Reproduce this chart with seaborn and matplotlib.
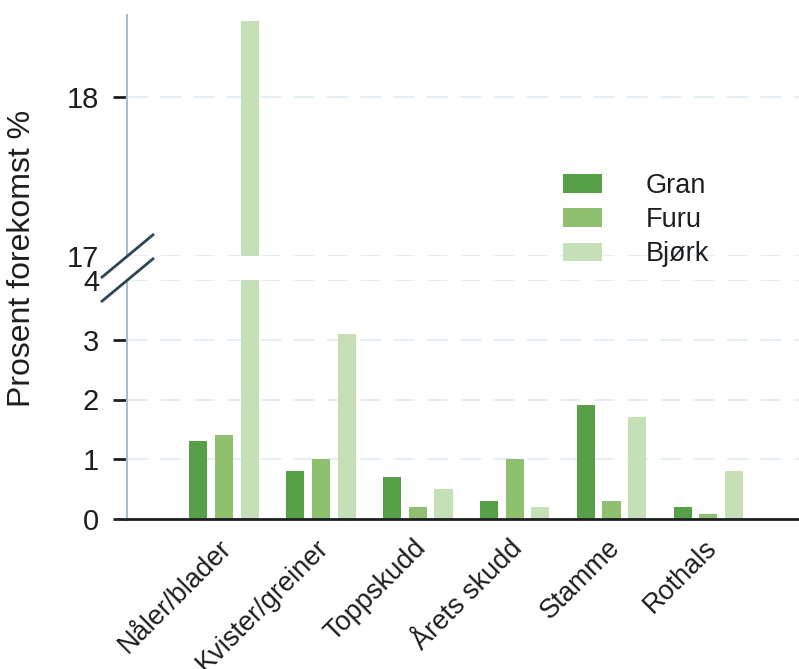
import numpy as np
import pandas as pd
import matplotlib
matplotlib.use("Agg")
import matplotlib.pyplot as plt
import seaborn as sns
from matplotlib.patches import Patch
from matplotlib.lines import Line2D
from matplotlib.transforms import ScaledTranslation

# ---- data ----
categories = ["Nåler/blader", "Kvister/greiner", "Toppskudd", "Årets skudd", "Stamme", "Rothals"]
species = ["Gran", "Furu", "Bjørk"]
gran = [1.3, 0.8, 0.7, 0.3, 1.9, 0.2]
furu = [1.4, 1.0, 0.2, 1.0, 0.3, 0.08]
bjork = [18.48, 3.1, 0.5, 0.2, 1.7, 0.8]
colors = ["#56a047", "#8fc070", "#c5dfb6"]
lower_ticks = [0, 1, 2, 3, 4]
upper_ticks = [17, 18]
ylabel = "Prosent forekomst %"

sns.set_style("white")
plt.rcParams["font.family"] = ["Liberation Sans", "DejaVu Sans"]

df = pd.DataFrame({
    "Del": categories * len(species),
    "Art": np.repeat(species, len(categories)),
    "Verdi": gran + furu + bjork,
})
palette = dict(zip(species, colors))

W, H = 799, 669
fig = plt.figure(figsize=(W / 100, H / 100), dpi=100)


def rect(x0, y0, x1, y1):
    return [x0 / W, 1 - y1 / H, (x1 - x0) / W, (y1 - y0) / H]


ax_top = fig.add_axes(rect(127, 15, 799, 256))
ax_bot = fig.add_axes(rect(127, 280, 799, 519))

ink = "#1c1f22"
for ax in (ax_top, ax_bot):
    sns.barplot(data=df, x="Del", y="Verdi", hue="Art", hue_order=species,
                palette=palette, width=0.8, gap=0.3, errorbar=None,
                saturation=1, linewidth=0, legend=False, ax=ax)
    ax.set_xlim(-1.0, 5.935)
    ax.set_xlabel("")
    ax.set_ylabel("")
    for s in ("top", "right"):
        ax.spines[s].set_visible(False)
    ax.spines["left"].set_color("#aabdcc")
    ax.spines["left"].set_linewidth(1.5)
    ax.yaxis.grid(True, color="#e6eef5", linestyle=(0, (10, 6)), linewidth=1.5)
    ax.set_axisbelow(True)
    ax.tick_params(axis="y", left=True, length=10, width=2, color=ink,
                   pad=10, labelsize=21, labelcolor=ink)

# top panel
ax_top.set_ylim(17, 18.52)
ax_top.set_yticks(upper_ticks)
ax_top.set_yticklabels([str(t) for t in upper_ticks])
ax_top.spines["bottom"].set_visible(False)
ax_top.tick_params(axis="x", bottom=False, labelbottom=False)
ax_top.yaxis.get_major_ticks()[0].tick1line.set_visible(False)

# bottom panel
ax_bot.set_ylim(0, 4)
ax_bot.set_yticks(lower_ticks)
ax_bot.set_yticklabels([str(t) for t in lower_ticks])
ax_bot.yaxis.get_major_ticks()[-1].tick1line.set_visible(False)
ax_bot.spines["bottom"].set_color(ink)
ax_bot.spines["bottom"].set_linewidth(2)
ax_bot.set_xticks(range(len(categories)))
ax_bot.set_xticklabels(categories, rotation=45, ha="right", va="top",
                       rotation_mode="anchor", fontsize=19.5, color=ink)
ax_bot.tick_params(axis="x", bottom=False, pad=8)
shift = ScaledTranslation(-5 / 100, 0, fig.dpi_scale_trans)
for lbl in ax_bot.get_xticklabels():
    lbl.set_transform(lbl.get_transform() + shift)

# break marks
for ax, yfrac in ((ax_top, 0.0), (ax_bot, 1.0)):
    pos = ax.get_position()
    cx = pos.x0 * W
    cy = (pos.y0 + yfrac * pos.height) * H
    fig.lines.append(Line2D([(cx - 26) / W, (cx + 27) / W],
                            [(cy - 22) / H, (cy + 22) / H],
                            transform=fig.transFigure, color="#2d4655",
                            linewidth=2, solid_capstyle="butt"))

# y label
fig.text(22 / W, 1 - 258 / H, ylabel, rotation=90, ha="center", va="center",
         fontsize=23, color=ink)

# legend
handles = [Patch(facecolor=palette[s], edgecolor="none") for s in species]
fig.legend(handles, species, loc="upper left", bbox_to_anchor=(563 / W, 1 - 173 / H),
           frameon=False, fontsize=19.5, handlelength=1.45, handleheight=0.67,
           handletextpad=1.6, labelspacing=0.3, borderpad=0, borderaxespad=0,
           labelcolor=ink)

fig.savefig("out.png", dpi=100, facecolor="white")
